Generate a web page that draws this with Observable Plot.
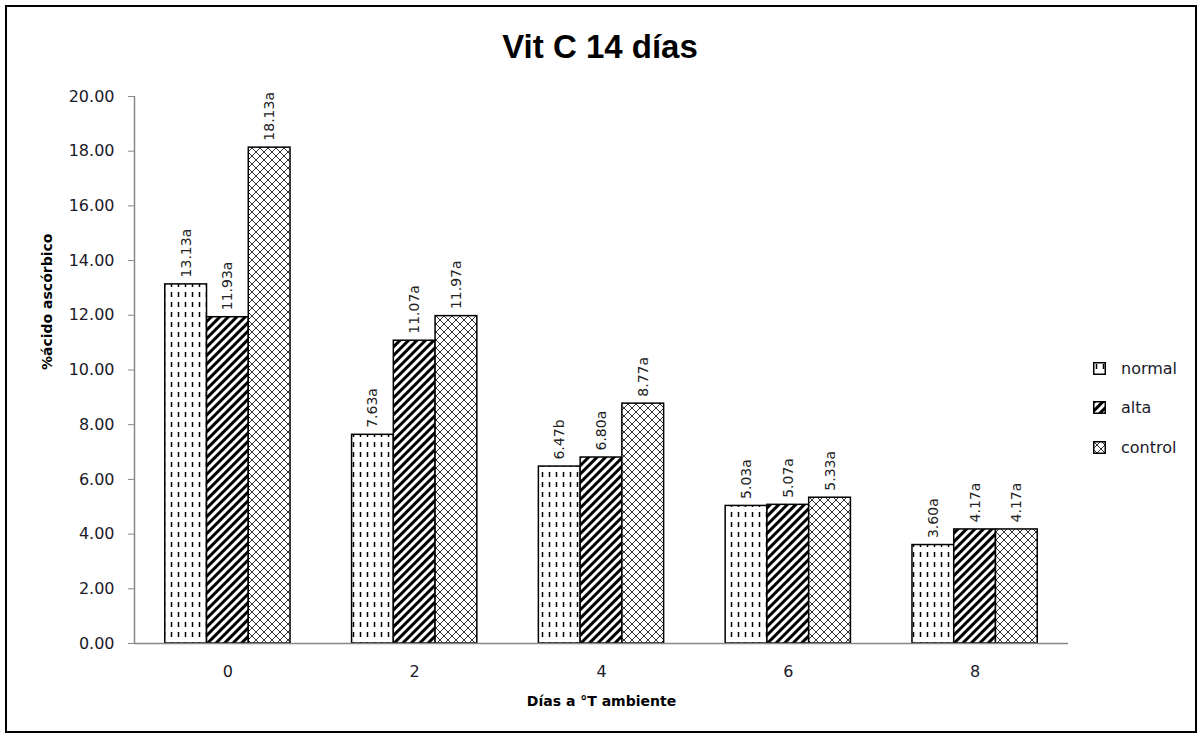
<!DOCTYPE html>
<html>
<head>
<meta charset="utf-8">
<script src="https://cdn.jsdelivr.net/npm/d3@7"></script>
<script src="https://cdn.jsdelivr.net/npm/@observablehq/plot@0.6"></script>
<style>
  html, body { margin: 0; padding: 0; background: #fff; }
  #wrap { position: relative; width: 1200px; height: 736px; overflow: hidden; font-family: "DejaVu Sans", sans-serif; }
  #border { position: absolute; left: 5px; top: 5px; width: 1192px; height: 728px; border: 2px solid #000; box-sizing: border-box; }
  #title { position: absolute; left: 0; width: 1200px; top: 30px; text-align: center; font-family: "Liberation Sans", Arial, sans-serif; font-weight: bold; font-size: 33px; line-height: 33px; color: #000; }
  #chart { position: absolute; left: 0; top: 0; }
  #legend { position: absolute; left: 1093px; top: 358px; }
  .item { display: flex; align-items: center; height: 20px; margin-bottom: 19.5px; font-size: 16px; color: #1a1a2a; }
  .item svg { margin-right: 15px; }
</style>
</head>
<body>
<div id="wrap">
  <svg width="0" height="0" style="position:absolute">
    <defs>
      <pattern id="pat-normal" patternUnits="userSpaceOnUse" width="7" height="10">
        <rect width="7" height="10" fill="#fff"></rect>
        <line x1="3.5" y1="2" x2="3.5" y2="7" stroke="#000" stroke-width="1.5"></line>
      </pattern>
      <pattern id="pat-alta" patternUnits="userSpaceOnUse" width="6" height="6" patternTransform="rotate(45)">
        <rect width="6" height="6" fill="#fff"></rect>
        <rect width="3" height="6" fill="#000"></rect>
      </pattern>
      <pattern id="pat-control" patternUnits="userSpaceOnUse" width="8" height="8">
        <rect width="8" height="8" fill="#fff"></rect>
        <path d="M0,0L8,8M8,0L0,8" stroke="#333" stroke-width="1"></path>
      </pattern>
    </defs>
  </svg>
  <div id="chart"></div>
  <div id="title">Vit C 14 días</div>
  <div id="legend"></div>
  <div id="border"></div>
</div>
<script>
// ---- data ----
const days = [0, 2, 4, 6, 8];
const series = ["normal", "alta", "control"];
const normal = [13.13, 7.63, 6.47, 5.03, 3.60];
const alta = [11.93, 11.07, 6.80, 5.07, 4.17];
const control = [18.13, 11.97, 8.77, 5.33, 4.17];
const normalLetters = ["a", "a", "b", "a", "a"];
const altaLetters = ["a", "a", "a", "a", "a"];
const controlLetters = ["a", "a", "a", "a", "a"];
const yTicks = [0, 2, 4, 6, 8, 10, 12, 14, 16, 18, 20];
const yLabel = "%ácido ascórbico";
const xLabel = "Días a °T ambiente";

const values = {normal, alta, control};
const letters = {normal: normalLetters, alta: altaLetters, control: controlLetters};
const table = series.flatMap((s, si) => days.map((d, di) => ({
  series: s, si, day: d, value: values[s][di], letter: letters[s][di]
})));

const barW = 0.447; // bar width in x units (group = 3 bars)
const x1 = d => d.day + (d.si - 1.5) * barW;
const x2 = d => d.day + (d.si - 0.5) * barW;
const xc = d => d.day + (d.si - 1) * barW;

const axisGray = "#878787";

const chart = Plot.plot({
  width: 1200,
  height: 736,
  marginLeft: 134,
  marginRight: 132,
  marginTop: 96,
  marginBottom: 93,
  x: {domain: [-1, 9]},
  y: {domain: [0, 20]},
  style: {fontFamily: "DejaVu Sans", color: "#000", background: "transparent"},
  marks: [
    Plot.rect(table, {x1, x2, y1: 0, y2: "value", fill: d => `url(#pat-${d.series})`, stroke: "#000", strokeWidth: 1.5}),
    Plot.ruleY([0], {stroke: axisGray, strokeWidth: 1.5}),
    Plot.ruleX([-1], {y1: 0, y2: 20, stroke: axisGray, strokeWidth: 1.5}),
    Plot.axisY({ticks: yTicks, tickFormat: d => d.toFixed(2), tickSize: 6, tickPadding: 14, fontSize: 16, stroke: axisGray, fill: "#1a1a2a", label: null}),
    Plot.axisX({ticks: days, tickSize: 0, tickPadding: 22, fontSize: 16, fill: "#1a1a2a", label: null}),
    Plot.text(table, {x: xc, y: "value", text: d => d.value.toFixed(2) + d.letter, rotate: -90, textAnchor: "start", dy: -7, fontSize: 14, fill: "#222"}),
    Plot.text([yLabel], {frameAnchor: "left", dx: -87, rotate: -90, fontSize: 14, fontWeight: "bold", fill: "#000"}),
    Plot.text([xLabel], {frameAnchor: "bottom", dy: 62, fontSize: 14, fontWeight: "bold", fill: "#000"})
  ]
});
document.getElementById("chart").appendChild(chart);

// legend
const legend = document.getElementById("legend");
for (const s of series) {
  const item = document.createElement("div");
  item.className = "item";
  item.innerHTML = `<svg width="13" height="13"><rect x="0.75" y="0.75" width="11.5" height="11.5" fill="url(#pat-${s})" stroke="#000" stroke-width="1.5"></rect></svg><span>${s}</span>`;
  legend.appendChild(item);
}
</script>
</body>
</html>
